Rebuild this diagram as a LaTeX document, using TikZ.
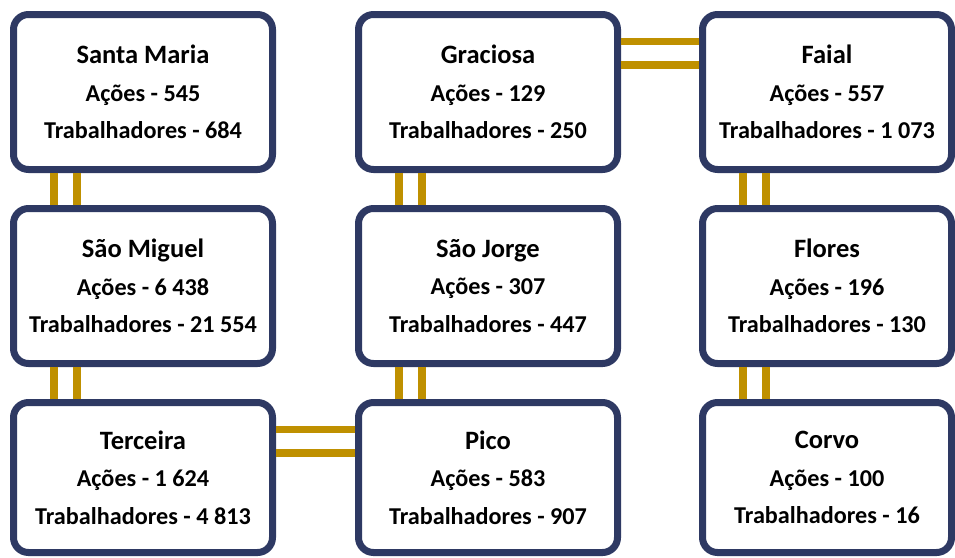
\documentclass[tikz,border=0pt]{standalone}
\usepackage{fontspec}
\setmainfont{Carlito}
\usepackage{tikz}
\usetikzlibrary{positioning}

\definecolor{azulEscuro}{RGB}{46,57,99}
\definecolor{dourado}{RGB}{191,144,0}
\newcommand{\ilhanome}[1]{{\fontsize{26.5}{37.5}\selectfont #1}}

\begin{document}
\begin{tikzpicture}[
            x = 1pt, y = -1pt, % pixel grid, y going down
            line width = 7pt, % border of the boxes
            font = \bfseries\fontsize{24.2}{37.5}\selectfont
        ]
        \tikzstyle{ilha}=[
            draw = azulEscuro,
            fill = white,
            rounded corners = 15pt,
            align = center,
            minimum width = 259pt,
            minimum height = 155pt
        ]
        \tikzstyle{ligacao}=[
            draw = dourado,
            line width = 7.5pt
        ]
        \useasboundingbox (0,0) rectangle (955,557);

        \node[ilha] (sma) at (143,92) {\ilhanome{Santa Maria}\\Ações - 545\\Trabalhadores - 684};
        \node[ilha] (smi) at (143,286) {\ilhanome{São Miguel}\\Ações - 6 438\\Trabalhadores - 21 554};
        \node[ilha, minimum height = 150pt] (ter) at (143,477.5) {\ilhanome{Terceira}\\Ações - 1 624\\Trabalhadores - 4 813};

        \node[ilha] (gra) at (488,92) {\ilhanome{Graciosa}\\Ações - 129\\Trabalhadores - 250};
        \node[ilha] (sjo) at (488,286) {\ilhanome{São Jorge}\\Ações - 307\\Trabalhadores - 447};
        \node[ilha, minimum height = 150pt] (pic) at (488,477.5) {\ilhanome{Pico}\\Ações - 583\\Trabalhadores - 907};

        \node[ilha, minimum width = 249pt] (fai) at (827,92) {\ilhanome{Faial}\\Ações - 557\\Trabalhadores - 1 073};
        \node[ilha, minimum width = 249pt] (flo) at (827,286) {\ilhanome{Flores}\\Ações - 196\\Trabalhadores - 130};
        \node[ilha, minimum width = 249pt, minimum height = 150pt] (cor) at (827,477.5) {\ilhanome{Corvo}\\Ações - 100\\Trabalhadores - 16};

        % vertical links
        \foreach \a/\b in {sma/smi, smi/ter, gra/sjo, sjo/pic, fai/flo, flo/cor}{
            \draw[ligacao] ([xshift=44pt]\a.south west) -- ([xshift=44pt]\b.north west);
            \draw[ligacao] ([xshift=67pt]\a.south west) -- ([xshift=67pt]\b.north west);
        }
        % horizontal links
        \foreach \a/\b in {ter/pic, gra/fai}{
            \draw[ligacao] ([yshift=-30.5pt]\a.north east) -- ([yshift=-30.5pt]\b.north west);
            \draw[ligacao] ([yshift=-54pt]\a.north east) -- ([yshift=-54pt]\b.north west);
        }
    \end{tikzpicture}
\end{document}
